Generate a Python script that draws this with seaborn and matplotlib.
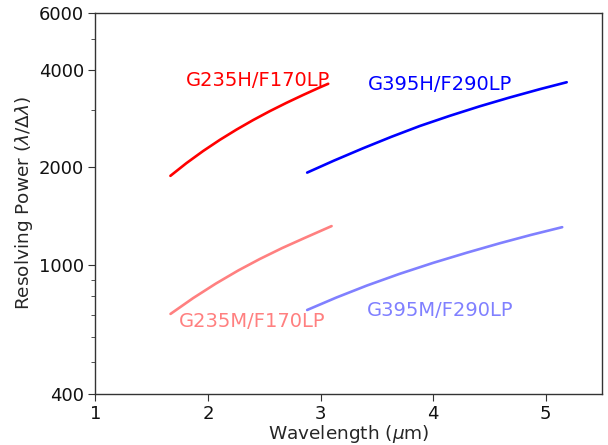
import matplotlib
matplotlib.use("Agg")
import matplotlib.pyplot as plt
import matplotlib.ticker as mticker
import seaborn as sns
import pandas as pd

# Data (wavelength in micron, resolving power)
g235h_wave = [1.666, 1.809, 1.957, 2.105, 2.253, 2.401, 2.549, 2.698, 2.846, 2.994, 3.068]
g235h_r = [1884, 2063, 2248, 2433, 2617, 2801, 2984, 3167, 3349, 3534, 3625]
g395h_wave = [2.881, 3.120, 3.379, 3.630, 3.883, 4.150, 4.416, 4.680, 4.950, 5.187]
g395h_r = [1928, 2100, 2293, 2487, 2686, 2888, 3090, 3288, 3490, 3665]
g235m_wave = [1.667, 1.868, 2.070, 2.270, 2.460, 2.660, 2.860, 3.098]
g235m_r = [706, 790, 876, 962, 1043, 1128, 1212, 1318]
g395m_wave = [2.881, 3.140, 3.409, 3.700, 4.001, 4.300, 4.594, 4.870, 5.147]
g395m_r = [726, 793, 863, 938, 1015, 1091, 1167, 1238, 1308]

names = ["G235H/F170LP", "G395H/F290LP", "G235M/F170LP", "G395M/F290LP"]
colors = ["#ff0000", "#0000ff", "#ff8080", "#8080ff"]
label_x = [1.80, 3.42, 1.74, 3.41]
label_y = [3560, 3480, 642, 694]

yticks = [400, 1000, 2000, 4000, 6000]
xticks = [1, 2, 3, 4, 5]

sns.set_style("ticks")
plt.rcParams["font.family"] = ["DejaVu Sans"]

frames = []
for n, w, r in zip(names,
                   [g235h_wave, g395h_wave, g235m_wave, g395m_wave],
                   [g235h_r, g395h_r, g235m_r, g395m_r]):
    frames.append(pd.DataFrame({"wave": w, "R": r, "mode": n}))
df = pd.concat(frames, ignore_index=True)

fig = plt.figure(figsize=(6.08, 4.45), dpi=100)
ax = fig.add_axes([0.157, 0.115, 0.833, 0.856])

sns.lineplot(data=df, x="wave", y="R", hue="mode", palette=dict(zip(names, colors)),
             estimator=None, sort=True, linewidth=1.9, legend=False, ax=ax)

ax.set_yscale("log")
ax.set_xlim(1, 5.5)
ax.set_ylim(400, 6000)
ax.set_yticks(yticks)
ax.yaxis.set_major_formatter(mticker.FixedFormatter([str(t) for t in yticks]))
ax.yaxis.set_minor_locator(mticker.LogLocator(base=10, subs=range(1, 10)))
ax.yaxis.set_minor_formatter(mticker.NullFormatter())
ax.set_xticks(xticks)
ax.set_xticklabels([str(t) for t in xticks])

for n, c, lx, ly in zip(names, colors, label_x, label_y):
    ax.text(lx, ly, n, color=c, fontsize=14, ha="left", va="baseline")

ax.set_xlabel(r"Wavelength ($\mu$m)", fontsize=13.3, labelpad=0)
ax.set_ylabel(r"Resolving Power ($\lambda/\Delta\lambda$)", fontsize=13.3, labelpad=3)
ax.tick_params(axis="both", which="major", labelsize=13, direction="out", length=5,
               color="#333333", labelcolor="#111111", pad=3)
ax.tick_params(axis="y", which="minor", length=3, color="#333333")
for s in ax.spines.values():
    s.set_visible(True)
    s.set_color("#333333")
    s.set_linewidth(1.0)

fig.savefig("out.png", dpi=100)
